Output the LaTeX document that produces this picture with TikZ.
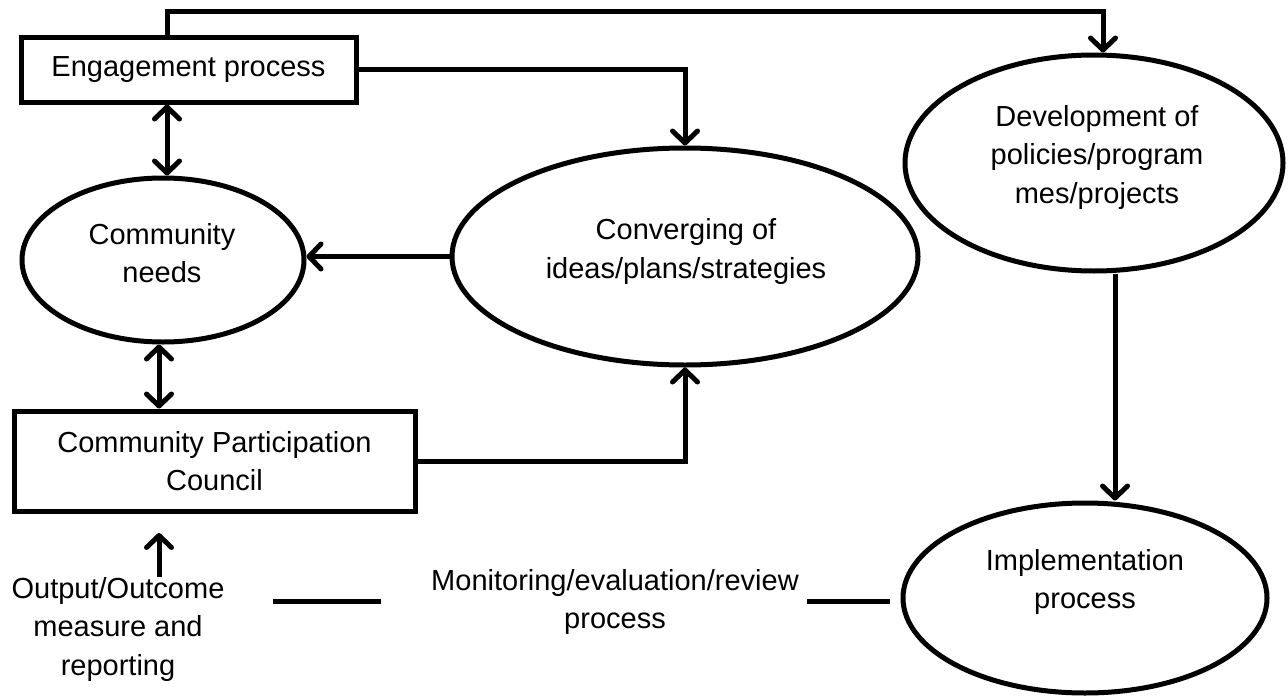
\documentclass[tikz,border=0pt]{standalone}
\usepackage{fontspec}
\setmainfont{Liberation Sans}
\usetikzlibrary{arrows.meta,shapes.geometric}
\begin{document}
\begin{tikzpicture}[x=1pt,y=-1pt,
  every node/.style={font=\fontsize{29pt}{38.5pt}\selectfont},
  box/.style={draw, line width=5pt, rectangle, inner sep=0pt, align=center},
  oval/.style={draw, line width=5pt, ellipse, inner sep=0pt},
  txt/.style={align=center, inner sep=0pt},
  link/.style={line width=5pt},
  arr/.style={link, -{Straight Barb[length=12pt,width=25pt,round]}},
  darr/.style={link, {Straight Barb[length=12pt,width=25pt,round]}-{Straight Barb[length=12pt,width=25pt,round]}},
]
\useasboundingbox (0,0) rectangle (1288,696);

% boxes
\node[box, minimum width=335pt, minimum height=65pt] (eng) at (188.5,69.5) {Engagement process};
\node[box, minimum width=401pt, minimum height=100pt] (cpc) at (214.5,461) {Community Participation\\Council};

% ellipses and their captions
\node[oval, minimum width=282pt, minimum height=164pt] (needs) at (163,260) {};
\node[txt] (needsT) at (162,253) {Community\\needs};
\node[oval, minimum width=466pt, minimum height=217pt] (conv) at (685,256.5) {};
\node[txt] (convT) at (686,251.5) {Converging of\\ideas/plans/strategies};
\node[oval, minimum width=378pt, minimum height=216pt] (dev) at (1094,163) {};
\node[txt] (devT) at (1097,157) {Development of\\policies/program\\mes/projects};
\node[oval, minimum width=364pt, minimum height=190pt] (impl) at (1085,598) {};
\node[txt] (implT) at (1085,582) {Implementation\\process};

% free-standing texts
\node[txt] (out) at (118,629) {Output/Outcome\\measure and\\reporting};
\node[txt] (mon) at (615,602) {Monitoring/evaluation/review\\process};

% helper coordinates
\coordinate (topL) at (167,11);
\coordinate (topR) at (1103,11);
\coordinate (oTip) at (159,533);
\coordinate (devX) at (1115,0);
\coordinate (m1) at (273,601);
\coordinate (m2) at (381,601);

% connectors
\draw[arr] (eng.north -| topL) -- (topL) -- (topR) -- (dev.north -| topR);
\draw[arr] (eng.east) -| (conv.north);
\draw[darr] (eng.south -| topL) -- (needs.north -| topL);
\draw[darr] (needs.south -| oTip) -- (cpc.north -| oTip);
\draw[arr] (conv.west) -- (conv.west -| needs.east);
\draw[arr] (cpc.east) -| (conv.south);
\draw[arr] (dev.south -| devX) -- (impl.north -| devX);
\draw[arr] (out.north -| oTip) -- (oTip);
\draw[link] (m1) -- (m2);
\draw[link] ([xshift=8pt]mon.east |- m1) -- ([xshift=-11pt]impl.west |- m1);
\end{tikzpicture}
\end{document}
